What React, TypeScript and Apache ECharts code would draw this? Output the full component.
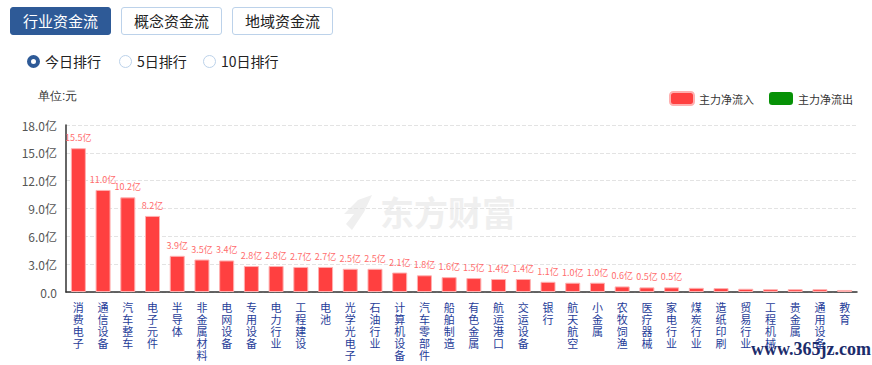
import React, { useEffect, useRef } from "react";
import * as echarts from "echarts";

const categories = [
  "消费电子", "通信设备", "汽车整车", "电子元件", "半导体", "非金属材料", "电网设备", "专用设备",
  "电力行业", "工程建设", "电池", "光学光电子", "石油行业", "计算机设备", "汽车零部件", "船舶制造",
  "有色金属", "航运港口", "交运设备", "银行", "航天航空", "小金属", "农牧饲渔", "医疗器械",
  "家电行业", "煤炭行业", "造纸印刷", "贸易行业", "工程机械", "贵金属", "通用设备", "教育",
];
const inflow = [
  15.5, 11.0, 10.2, 8.2, 3.9, 3.5, 3.4, 2.8,
  2.8, 2.7, 2.7, 2.5, 2.5, 2.1, 1.8, 1.6,
  1.5, 1.4, 1.4, 1.1, 1.0, 1.0, 0.6, 0.5,
  0.5, 0.45, 0.42, 0.35, 0.3, 0.3, 0.3, 0.22,
];
const outflow: number[] = [];
const labeledCount = 25;
const yTicks = [0, 3, 6, 9, 12, 15, 18];
const tabs = ["行业资金流", "概念资金流", "地域资金流"];
const ranks = ["今日排行", "5日排行", "10日排行"];

const FONT = '"Noto Sans CJK SC", "Noto Sans", sans-serif';
const BLUE = "#2e5a97";

export default function App() {
  const ref = useRef<HTMLDivElement>(null);
  useEffect(() => {
    document.body.style.margin = "0";
    const chart = echarts.init(ref.current!, undefined, { renderer: "svg" });
    chart.setOption({
      animation: false,
      textStyle: { fontFamily: FONT },
      legend: {
        left: 664,
        top: 86,
        itemWidth: 24,
        itemHeight: 13,
        itemGap: 15,
        textStyle: { fontSize: 11, color: "#333", fontFamily: FONT },
        data: ["主力净流入", "主力净流出"],
      },
      grid: { left: 66, right: 15, top: 125, bottom: 73 },
      graphic: [
        {
          type: "text",
          left: 38,
          top: 90,
          style: { text: "单位:元", fontSize: 12, fill: "#333", font: `12px ${FONT}` },
        },
        {
          type: "text",
          left: 380,
          top: 194,
          z: -1,
          style: { text: "东方财富", font: `bold 34px ${FONT}`, fill: "#efefef" },
        },
        {
          type: "polygon",
          z: -1,
          shape: { points: [[358, 200], [372, 195], [364, 212], [352, 230], [346, 224], [354, 214], [344, 214]] },
          style: { fill: "#efefef" },
        },
        {
          type: "text",
          left: 751,
          top: 340,
          z: 10,
          style: { text: "www.365jz.com", font: `bold 18px "Liberation Serif", serif`, fill: "#1b2c6b" },
        },
      ],
      xAxis: {
        type: "category",
        data: categories,
        axisLine: { lineStyle: { color: "#333", width: 1.5 } },
        axisTick: { show: false },
        axisLabel: {
          interval: 0,
          fontSize: 11,
          lineHeight: 12,
          color: "#1f3d99",
          margin: 9,
          fontFamily: FONT,
          formatter: (v: string) => v.split("").join("\n"),
        },
      },
      yAxis: {
        type: "value",
        min: yTicks[0],
        max: yTicks[yTicks.length - 1],
        interval: 3,
        axisLine: { show: true, lineStyle: { color: "#333", width: 1.5 } },
        axisTick: { show: false },
        splitLine: { lineStyle: { color: "#e3e3e3", type: "dashed" } },
        axisLabel: {
          color: "#555",
          fontSize: 12,
          margin: 9,
          fontFamily: FONT,
          formatter: (v: number) => (v === 0 ? "0.0" : v.toFixed(1) + "亿"),
        },
      },
      series: [
        {
          name: "主力净流入",
          type: "bar",
          barWidth: 15,
          barGap: "-100%",
          itemStyle: { color: "#ff4040", borderColor: "#ffb0b0", borderWidth: 1 },
          label: {
            show: true,
            position: "top",
            distance: 6,
            fontSize: 9,
            color: "#ff6d6d",
            fontFamily: FONT,
            formatter: (p: any) => p.value.toFixed(1) + "亿",
          },
          data: inflow.map((v, i) => (i < labeledCount ? v : { value: v, label: { show: false } })),
        },
        {
          name: "主力净流出",
          type: "bar",
          barWidth: 15,
          itemStyle: { color: "#069106" },
          data: outflow,
        },
      ],
    });
    return () => chart.dispose();
  }, []);

  return (
    <div style={{ position: "absolute", left: 0, top: 0, width: 872, height: 365, fontFamily: FONT, background: "#fff" }}>
      <div ref={ref} style={{ position: "absolute", left: 0, top: 0, width: 872, height: 365 }} />
      {tabs.map((t, i) => (
        <div
          key={t}
          style={{
            position: "absolute",
            left: 10 + i * 111,
            top: 7,
            width: 101,
            height: 28,
            boxSizing: "border-box",
            border: i === 0 ? `1px solid ${BLUE}` : "1px solid #bcd2ea",
            background: i === 0 ? BLUE : "#fff",
            color: i === 0 ? "#fff" : "#222",
            borderRadius: 3,
            fontSize: 15,
            lineHeight: "26px",
            textAlign: "center",
          }}
        >
          {t}
        </div>
      ))}
      {ranks.map((r, i) => {
        const xs = [33, 125, 209];
        return (
          <React.Fragment key={r}>
            <div
              style={{
                position: "absolute",
                left: xs[i] - 6.5,
                top: 61 - 6.5,
                width: 13,
                height: 13,
                boxSizing: "border-box",
                borderRadius: "50%",
                border: i === 0 ? `4px solid ${BLUE}` : "1px solid #bcd2ea",
                background: "#fff",
              }}
            />
            <div
              style={{
                position: "absolute",
                left: xs[i] + 12,
                top: 51,
                fontSize: 14,
                lineHeight: "20px",
                color: "#222",
                whiteSpace: "nowrap",
              }}
            >
              {r}
            </div>
          </React.Fragment>
        );
      })}
    </div>
  );
}
